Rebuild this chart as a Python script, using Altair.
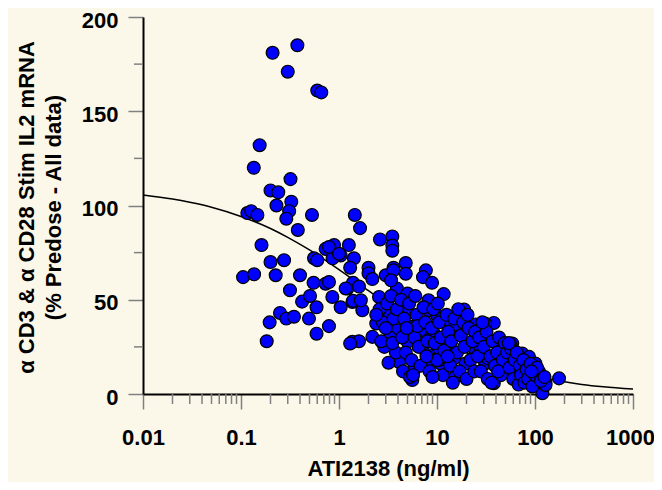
import altair as alt
import pandas as pd

# ---- scattered points (ATI2138 ng/ml, % predose) ----
sparse_x = [0.21, 0.376, 0.30, 0.60, 0.66, 0.155, 0.135, 0.32, 0.20, 0.24,
            0.326, 0.23, 0.31, 0.116, 0.127, 0.147, 0.53, 1.45, 0.29, 0.38,
            1.64, 0.162, 0.20, 0.275, 0.105, 0.136, 0.226, 0.40, 0.556, 0.60,
            0.316, 0.42, 0.506, 0.59, 0.55, 0.73, 0.855, 1.04, 1.22, 0.25,
            0.29, 0.347, 0.196, 0.494, 0.59, 0.79, 0.183, 1.37, 0.73, 0.89,
            1.04, 0.86, 2.62, 3.5, 3.5, 3.5, 4.8, 3.6, 2.0, 2.0,
            2.19, 3.0, 7.7, 7.2, 1.37, 1.73, 1.6, 0.79, 1.0, 1.26,
            1.42, 1.3, 1.39, 1.6, 2.56, 3.0, 2.4, 2.19, 2.9, 3.9,
            4.1, 5.0, 5.0, 5.6, 4.1, 5.8, 7.1, 8.9, 11.7, 3.6,
            4.8, 3.4, 0.79, 1.39, 1.67, 5.0, 8.2, 8.2, 7.1, 10,
            12.2, 9.6, 7.7, 10.9, 5.6, 3.2, 1.3, 18.9, 38, 24.8,
            31, 58.6, 44.7, 74, 87, 110, 128, 176, 119, 98,
            74, 66, 48, 38, 31, 19.6, 15.5, 14.9, 8.2, 3.9,
            13.2, 23, 27, 16.2, 9.3, 6.8, 15.5, 13.2, 27, 33,
            66, 98, 128, 10.5, 74, 56, 101, 94, 1.17]
sparse_y = [181, 185, 171, 161, 160, 132, 120, 114, 108, 107,
            102, 100, 97, 96, 97, 95, 95, 95, 93, 87,
            88, 79, 70, 71, 62, 63.5, 63, 63, 72, 71,
            55, 49, 52, 46, 59, 58.5, 51.5, 46, 56, 43,
            40, 41, 38, 40, 32, 36, 28, 27.7, 77, 79,
            73.5, 72, 82, 83.6, 78.8, 76, 69.5, 67, 67, 64,
            61, 63, 65.6, 62, 48.8, 44.4, 28, 78, 74.4, 79,
            72, 67, 59, 57, 51.5, 42.7, 37.4, 30.3, 25, 56,
            33, 43.5, 27.7, 35.6, 17, 12.7, 25, 59, 53, 65.6,
            63.8, 60.3, 59.4, 49.4, 49.7, 53.3, 44.4, 49.7, 32, 41.8,
            38.2, 20.6, 15.3, 16.2, 7.4, 16.6, 26.8, 44.8, 37.7, 36.9,
            37.4, 26.8, 24.2, 21.5, 19.7, 11.8, 5.7, 8.3, 0.4, 9.2,
            7.4, 12.7, 12.7, 5.7, 16.2, 16.2, 9.2, 18.9, 20.6, 33.9,
            24.2, 25, 33.9, 35.6, 32, 33.9, 36.5, 26.8, 25.9, 18.9,
            7.8, 6.5, 4.8, 18, 14.4, 26, 16.2, 6.5, 56]

# ---- densely overlapping cloud (estimated) ----
dense_x = [2.6, 2.8, 3.1, 3.3, 3.6, 3.8, 2.7, 3.4, 3.9, 2.4, 3.0, 3.5,
           4.3, 4.6, 4.4, 4.8, 5.2, 5.5, 5.9, 6.2, 6.5, 6.8, 4.5, 5.3, 6.0, 6.3, 4.9, 5.7,
           7.3, 7.6, 8.0, 8.4, 8.8, 9.2, 9.5, 10, 10.5, 11, 11.5, 7.8, 9.0, 10.2, 11.8,
           12.5, 13, 13.6, 14, 15, 16, 17, 17.5, 18.5, 19, 20, 21, 22, 23, 24, 12.8, 14.5, 16.5, 20.5, 24.5,
           26, 27, 28, 30, 32, 33, 35, 37, 39, 41, 43, 45, 47, 49, 29, 36, 42,
           52, 55, 57, 60, 62, 65, 68, 70, 72, 76, 78, 54,
           82, 85, 90, 94, 100, 105, 115, 125, 92]
dense_y = [45, 38, 48, 30, 40, 22, 28, 52, 45, 42, 35, 27,
           50, 40, 30, 22, 48, 18, 30, 42, 25, 15, 12, 9, 52, 36, 35, 10,
           46, 38, 28, 12, 35, 45, 27, 18, 38, 30, 10, 20, 9, 48, 23,
           42, 33, 15, 28, 40, 22, 12, 31, 38, 25, 8, 35, 18, 28, 12, 20, 6, 45, 42, 33,
           20, 30, 12, 25, 33, 8, 20, 28, 15, 22, 30, 10, 18, 27, 38, 6, 12,
           22, 14, 24, 8, 18, 22, 5, 15, 10, 18, 6, 27,
           13, 8, 16, 4, 10, 14, 7, 9, 12]

# ---- fitted curve ----
fit_x = [0.01, 0.02, 0.03, 0.05, 0.1, 0.2, 0.3, 0.5, 1, 2, 3, 5, 10, 20, 30, 50,
         100, 200, 300, 500, 1000]
fit_y = [105.6, 103.4, 101.7, 99.1, 94.2, 87.8, 83.1, 76.4, 66.0, 54.8, 48.1, 40.0,
         30.1, 21.9, 18.0, 13.8, 9.5, 6.5, 5.1, 3.8, 2.6]

# ---- axis ticks ----
x_major = [0.01, 0.1, 1, 10, 100, 1000]
x_minor = [round(m * 10 ** e, 4) for e in range(-2, 3) for m in range(2, 10)]
y_major = [0, 50, 100, 150, 200]
y_minor = [25, 75, 125, 175]

FONT = "Liberation Sans"
FS = 22
BG = "#FBF7E9"
TICK = "#808080"

pts_df = pd.DataFrame({"x": sparse_x + dense_x, "y": sparse_y + dense_y})
fit_df = pd.DataFrame({"x": fit_x, "y": fit_y})
xmin_df = pd.DataFrame({"x": x_minor})
ymin_df = pd.DataFrame({"y": y_minor})

xscale = alt.Scale(type="log", domain=[0.01, 1000])
yscale = alt.Scale(domain=[0, 200])

xaxis = alt.Axis(values=x_major, format="~g", tickSize=15, tickColor=TICK, tickWidth=1.5,
                 domainColor="black", domainWidth=2, grid=False,
                 labelFont=FONT, labelFontWeight="bold", labelFontSize=FS, labelColor="black",
                 labelPadding=18.5, labelFlush=False, labelOverlap=False,
                 labelOffset={"condition": {"test": "datum.value >= 1000", "value": -3}, "value": 0},
                 title="ATI2138 (ng/ml)", titleFont=FONT, titleFontSize=FS,
                 titleFontWeight="bold", titleColor="black",
                 titleX=245, titleY=81.5, titleAlign="center", titleBaseline="alphabetic")

yaxis = alt.Axis(values=y_major, tickSize=15, tickColor=TICK, tickWidth=1.5,
                 domainColor="black", domainWidth=2, grid=False,
                 labelFont=FONT, labelFontWeight="bold", labelFontSize=FS, labelColor="black",
                 labelPadding=10, labelOffset=3,
                 title=["\u03b1 CD3 & \u03b1 CD28 Stim IL2 mRNA", "(% Predose - All data)"],
                 titleFont=FONT, titleFontSize=FS, titleFontWeight="bold", titleColor="black",
                 titleAngle=-90, titleX=-110, titleY=190, titleAlign="center",
                 titleBaseline="alphabetic", titleLineHeight=27)

xminor = alt.Chart(xmin_df).mark_rule(color=TICK, strokeWidth=1.5).encode(
    x=alt.X("x:Q", scale=xscale, axis=xaxis),
    y=alt.value(377), y2=alt.value(387))

yminor = alt.Chart(ymin_df).mark_rule(color=TICK, strokeWidth=1.5).encode(
    y=alt.Y("y:Q", scale=yscale, axis=yaxis),
    x=alt.value(-9), x2=alt.value(0))

fit = alt.Chart(fit_df).mark_line(color="black", strokeWidth=1.5, interpolate="monotone").encode(
    x=alt.X("x:Q", scale=xscale, axis=xaxis),
    y=alt.Y("y:Q", scale=yscale, axis=yaxis))

pts = alt.Chart(pts_df).mark_circle(size=165, fill="#0000FF", stroke="black",
                                    strokeWidth=1.2, opacity=1).encode(
    x=alt.X("x:Q", scale=xscale, axis=xaxis),
    y=alt.Y("y:Q", scale=yscale, axis=yaxis))

chart = alt.layer(xminor, yminor, fit, pts).properties(
    width=490, height=377,
    autosize=alt.AutoSizeParams(type="none"),
    padding={"left": 135, "top": 9, "right": 21, "bottom": 88},
    background=BG,
).configure_view(stroke="transparent")

chart.save("out.html", embed_options={"renderer": "svg", "actions": False})
